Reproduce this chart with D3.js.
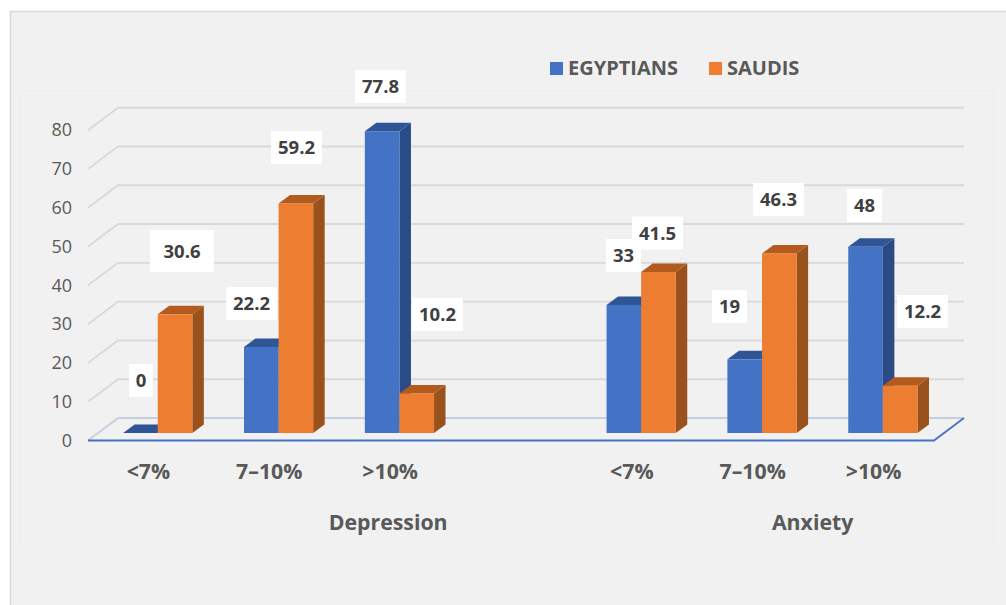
<!DOCTYPE html>
<html>
<head>
<meta charset="utf-8">
<script src="https://cdn.jsdelivr.net/npm/d3@7"></script>
<style>
html,body{margin:0;padding:0;background:#fff;}
svg{display:block;}
text{font-family:"Open Sans",sans-serif;}
</style>
</head>
<body>
<svg id="chart" width="1006" height="605"></svg>
<script>
// Chart contents
const slots = ["d1","d2","d3","gap","a1","a2","a3"];
const slotLabels = ["<7%","7–10%",">10%","","<7%","7–10%",">10%"];
const egyptians = [0,22.2,77.8,null,33,19,48];
const saudis = [30.6,59.2,10.2,null,41.5,46.3,12.2];
const seriesNames = ["EGYPTIANS","SAUDIS"];
const tickValues = [0,10,20,30,40,50,60,70,80];
const groupNames = ["Depression","Anxiety"];

const colors = {
  EGYPTIANS:{front:"#4472c4",top:"#2f5597",side:"#2a4b85"},
  SAUDIS:{front:"#ed7d31",top:"#b35a1f",side:"#99521c"}
};

// Oblique projection: the floor recedes up and to the right
const depthX = 30, depthY = 22.5;
const barShiftX = 9.3, barShiftY = 7.5;   // gap between front edge of floor and bar
const barDepthX = 11.5, barDepthY = 8.5;

const svg = d3.select("#chart");
svg.append("rect").attr("x",10.5).attr("y",11.5).attr("width",1010).attr("height",610)
  .attr("fill","#f1f1f1").attr("stroke","#d9d9d9").attr("stroke-width",1.5);
svg.append("rect").attr("x",20.5).attr("y",90.5).attr("width",973).attr("height",451.5)
  .attr("fill","#f1f1f1").attr("stroke","#ededed");

const x = d3.scaleBand().domain(slots).range([88,934]);
const y = d3.scaleLinear().domain([0,80]).range([440.5,130.2]);

// Walls: back gridlines with their slanted returns
const grid = svg.append("g");
tickValues.slice(1).forEach(t=>{
  const yy = y(t);
  grid.append("path")
    .attr("d",`M${x.range()[0]},${yy}L${x.range()[0]+depthX},${yy-depthY}L${x.range()[1]+depthX},${yy-depthY}`)
    .attr("fill","none").attr("stroke","#d9d9d9").attr("stroke-width",1.9);
});

// Floor
const fx0 = x.range()[0], fx1 = x.range()[1], fy = y(0);
svg.append("path")
  .attr("d",`M${fx0},${fy}L${fx0+depthX},${fy-depthY}L${fx1+depthX},${fy-depthY}`)
  .attr("fill","none").attr("stroke","#c5cfe1").attr("stroke-width",2);
svg.append("path")
  .attr("d",`M${fx0},${fy}L${fx1},${fy}L${fx1+depthX},${fy-depthY}`)
  .attr("fill","none").attr("stroke","#4472c4").attr("stroke-width",1.8);

// Bars
const barW = 34.6;
function drawBar(g, slot, value, offset, c){
  const left = x(slot)+x.bandwidth()/2+barShiftX+offset*barW;
  const right = left+barW;
  const base = fy-barShiftY;
  const top = base-(y(0)-y(value));
  g.append("path").attr("fill",c.side)
    .attr("d",`M${right},${top}L${right+barDepthX},${top-barDepthY}L${right+barDepthX},${base-barDepthY}L${right},${base}Z`);
  g.append("path").attr("fill",c.top)
    .attr("d",`M${left},${top}L${left+barDepthX},${top-barDepthY}L${right+barDepthX},${top-barDepthY}L${right},${top}Z`);
  g.append("rect").attr("fill",c.front).attr("x",left).attr("y",top).attr("width",barW).attr("height",base-top);
}
const bars = svg.append("g");
slots.forEach((s,i)=>{
  if(egyptians[i]===null) return;
  drawBar(bars,s,egyptians[i],-1,colors.EGYPTIANS);
  drawBar(bars,s,saudis[i],0,colors.SAUDIS);
});

// Value axis labels
const axisG = svg.append("g")
  .attr("transform",`translate(${fx0},0)`)
  .call(d3.axisLeft(y).tickValues(tickValues).tickSize(0).tickPadding(16));
axisG.select(".domain").remove();
axisG.selectAll("text").attr("font-size",18).attr("fill","#595959").style("font-family",'"Open Sans",sans-serif');

// Category labels
const catAxis = svg.append("g")
  .attr("transform",`translate(0,${fy})`)
  .call(d3.axisBottom(x).tickFormat((d,i)=>slotLabels[i]).tickSize(0).tickPadding(23.5));
catAxis.select(".domain").remove();
catAxis.selectAll("text").attr("font-size",21.3).attr("font-weight",700).attr("fill","#595959").style("font-family",'"Open Sans",sans-serif');

// Group captions
const mid = (a,b)=>(x(a)+x(b)+x.bandwidth())/2;
svg.append("text").attr("x",mid("d2","gap")-2).attr("y",530).attr("text-anchor","middle")
  .attr("font-size",21.3).attr("font-weight",700).attr("fill","#595959").text(groupNames[0]);
svg.append("text").attr("x",mid("a2","a3")-0.5).attr("y",530).attr("text-anchor","middle")
  .attr("font-size",21.3).attr("font-weight",700).attr("fill","#595959").text(groupNames[1]);

// Value callouts: centre point of each white box, with box size
const eLabelPos = [[141,380.5,24,33],[251.5,303.5,51,33],[380.5,86.5,51,33],null,[623.5,255.5,35,33],[729.5,306.5,35,33],[864.5,205.5,35,33]];
const sLabelPos = [[182,251,64,42],[296.5,147.5,51,33],[437.5,314.5,51,33],null,[657.5,233,51,33],[778.5,199.5,51,33],[922.5,311.5,51,33]];
const calloutBoxes = svg.append("g"), calloutText = svg.append("g");
function callout(pos,value){
  if(!pos) return;
  const [cx,cy,w,h] = pos;
  calloutBoxes.append("rect").attr("x",cx-w/2).attr("y",cy-h/2).attr("width",w).attr("height",h).attr("fill","#fff");
  calloutText.append("text").attr("x",cx).attr("y",cy+6.5).attr("text-anchor","middle")
    .attr("font-size",18.5).attr("font-weight",700).attr("fill","#404040").text(String(value));
}
egyptians.forEach((v,i)=>callout(eLabelPos[i],v));
saudis.forEach((v,i)=>callout(sLabelPos[i],v));

// Legend
const legend = svg.append("g");
[[550,568,seriesNames[0]],[709,727,seriesNames[1]]].forEach(([sx,tx,n])=>{
  legend.append("rect").attr("x",sx).attr("y",62).attr("width",13).attr("height",13).attr("fill",colors[n].front);
  legend.append("text").attr("x",tx).attr("y",75).attr("font-size",20).attr("font-weight",700).attr("fill","#595959").text(n);
});
</script>
</body>
</html>
